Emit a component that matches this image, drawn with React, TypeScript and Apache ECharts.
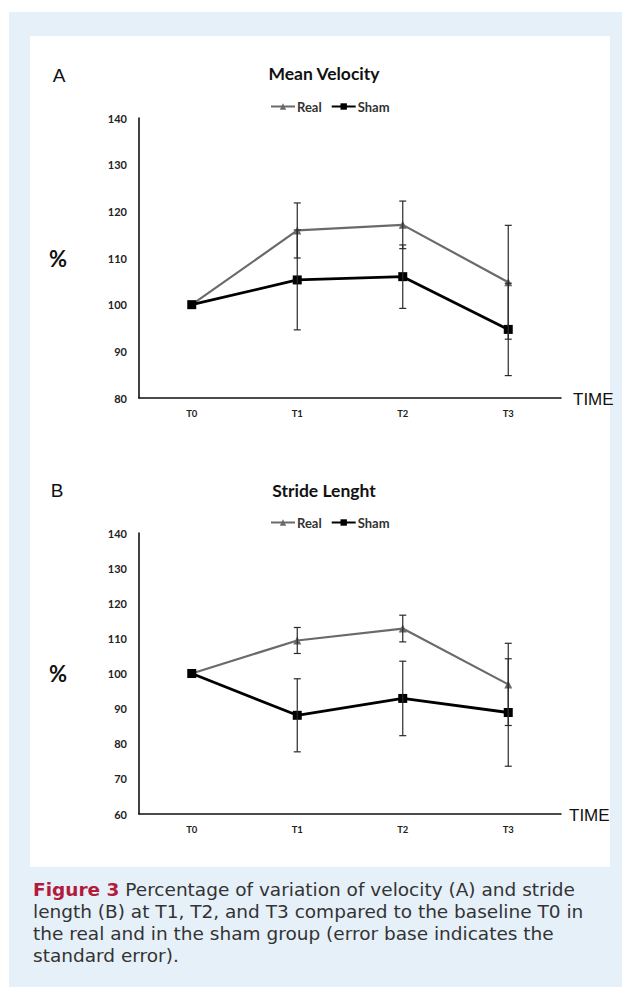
import React, { useEffect, useRef } from "react";
import * as echarts from "echarts";

const categories = ["T0", "T1", "T2", "T3"];
const yTicksA = [80, 90, 100, 110, 120, 130, 140];
const yTicksB = [60, 70, 80, 90, 100, 110, 120, 130, 140];

// Panel A: Mean Velocity (%)
const velReal = [100, 115.9, 117.1, 104.8];
const velRealErr = [0, 5.9, 5.1, 12.2];
const velSham = [100, 105.3, 106.0, 94.7];
const velShamErr = [0, 10.7, 6.8, 9.9];

// Panel B: Stride Lenght (%)
const strideReal = [100, 109.4, 112.8, 96.9];
const strideRealErr = [0, 3.7, 3.8, 11.7];
const strideSham = [100, 88.1, 92.9, 88.9];
const strideShamErr = [0, 10.4, 10.6, 15.3];

const captionLines = [
  "Percentage of variation of velocity (A) and stride",
  "length (B) at T1, T2, and T3 compared to the baseline T0 in",
  "the real and in the sham group (error base indicates the",
  "standard error).",
];

const CHART_FONT = "Lato";

function errData(vals: number[], errs: number[]) {
  const out: number[][] = [];
  vals.forEach((v, i) => {
    if (errs[i] > 0) out.push([i, v - errs[i], v + errs[i]]);
  });
  return out;
}

function errRender(params: any, api: any) {
  const x = api.value(0);
  const lo = api.value(1);
  const hi = api.value(2);
  const pHi = api.coord([x, hi]);
  const pLo = api.coord([x, lo]);
  const cap = 3.5;
  const st = { stroke: "#2a2a2a", lineWidth: 1.2 };
  return {
    type: "group",
    children: [
      { type: "line", shape: { x1: pHi[0], y1: pHi[1], x2: pLo[0], y2: pLo[1] }, style: st },
      { type: "line", shape: { x1: pHi[0] - cap, y1: pHi[1], x2: pHi[0] + cap, y2: pHi[1] }, style: st },
      { type: "line", shape: { x1: pLo[0] - cap, y1: pLo[1], x2: pLo[0] + cap, y2: pLo[1] }, style: st },
    ],
  };
}

function makeAxes(idx: number, min: number, max: number) {
  const x = {
    type: "category",
    gridIndex: idx,
    data: categories,
    boundaryGap: true,
    axisLine: { show: true, lineStyle: { color: "#111", width: 1.6 } },
    axisTick: { show: false },
    axisLabel: { margin: 10, fontFamily: CHART_FONT, fontWeight: "bold", fontSize: 9.5, color: "#222" },
    splitLine: { show: false },
  };
  const y = {
    type: "value",
    gridIndex: idx,
    min,
    max,
    interval: 10,
    axisLine: { show: true, lineStyle: { color: "#111", width: 1.6 } },
    axisTick: { show: false },
    axisLabel: { margin: 12, fontFamily: CHART_FONT, fontWeight: "bold", fontSize: 11, color: "#222" },
    splitLine: { show: false },
  };
  return { x, y };
}

function lineSeries(name: string, data: number[], idx: number, real: boolean) {
  return {
    type: "line",
    name,
    xAxisIndex: idx,
    yAxisIndex: idx,
    data,
    symbol: real ? "triangle" : "rect",
    symbolSize: real ? 8 : 9,
    itemStyle: { color: real ? "#6a6a6a" : "#000" },
    lineStyle: { color: real ? "#6a6a6a" : "#000", width: real ? 2.2 : 2.8 },
    z: real ? 4 : 5,
  };
}

function errSeries(data: number[][], idx: number) {
  return {
    type: "custom",
    xAxisIndex: idx,
    yAxisIndex: idx,
    data,
    encode: { x: 0, y: [1, 2] },
    renderItem: errRender,
    z: 6,
    silent: true,
  };
}

export default function App() {
  const ref = useRef<HTMLDivElement>(null);

  useEffect(() => {
    if (!ref.current) return;
    const chart = echarts.init(ref.current, undefined, { renderer: "svg" });
    const aA = makeAxes(0, yTicksA[0], yTicksA[yTicksA.length - 1]);
    const aB = makeAxes(1, yTicksB[0], yTicksB[yTicksB.length - 1]);

    const titleStyle = { fontFamily: CHART_FONT, fontWeight: "bold", fontSize: 17.5, fill: "#111" };
    const bigLetter = { fontFamily: "Liberation Sans", fontSize: 19, fill: "#111" };
    const pct = { fontFamily: CHART_FONT, fontWeight: "bold", fontSize: 22, fill: "#111" };
    const timeStyle = { fontFamily: "Liberation Sans", fontSize: 17, fill: "#111" };
    const capStyle = { fontFamily: "DejaVu Sans", fontSize: 18.5, fill: "#333" };
    const capLH = 22.3;

    const texts: any[] = [
      { type: "text", x: 59, y: 75, style: { ...bigLetter, text: "A", textAlign: "center", textVerticalAlign: "middle" } },
      { type: "text", x: 57, y: 490, style: { ...bigLetter, text: "B", textAlign: "center", textVerticalAlign: "middle" } },
      { type: "text", x: 324, y: 73, style: { ...titleStyle, text: "Mean Velocity", textAlign: "center", textVerticalAlign: "middle" } },
      { type: "text", x: 324, y: 490, style: { ...titleStyle, text: "Stride Lenght", textAlign: "center", textVerticalAlign: "middle" } },
      { type: "text", x: 58, y: 258, style: { ...pct, text: "%", textAlign: "center", textVerticalAlign: "middle" } },
      { type: "text", x: 58, y: 673, style: { ...pct, text: "%", textAlign: "center", textVerticalAlign: "middle" } },
      { type: "text", x: 573, y: 399, style: { ...timeStyle, text: "TIME", textAlign: "left", textVerticalAlign: "middle" } },
      { type: "text", x: 569, y: 815, style: { ...timeStyle, text: "TIME", textAlign: "left", textVerticalAlign: "middle" } },
      {
        type: "text",
        x: 33,
        y: 889,
        style: {
          ...capStyle,
          text: "{f|Figure 3} " + captionLines[0],
          textVerticalAlign: "middle",
          rich: { f: { fontFamily: "DejaVu Sans", fontSize: 18.5, fontWeight: "bold", fill: "#b31b3b" } },
        },
      },
      ...captionLines.slice(1).map((t, i) => ({
        type: "text",
        x: 33,
        y: 889 + (i + 1) * capLH,
        style: { ...capStyle, text: t, textVerticalAlign: "middle" },
      })),
    ];

    const legendCommon = {
      itemWidth: 24,
      itemHeight: 8,
      itemGap: 9,
      left: 265,
      textStyle: { fontFamily: CHART_FONT, fontWeight: "bold", fontSize: 13, color: "#333", padding: [0, 0, 0, -3] },
    };

    chart.setOption({
      animation: false,
      graphic: [
        { type: "rect", z: -20, shape: { x: 9, y: 12, width: 613, height: 975 }, style: { fill: "#e6f0f9" } },
        { type: "rect", z: -19, shape: { x: 30, y: 36, width: 580, height: 831 }, style: { fill: "#ffffff" } },
        ...texts,
      ],
      legend: [
        { ...legendCommon, top: 95, data: ["Real", "Sham"] },
        { ...legendCommon, top: 511, data: ["Real", "Sham"] },
      ],
      grid: [
        { left: 139, top: 118, width: 422, height: 280, containLabel: false },
        { left: 139, top: 533, width: 422, height: 281, containLabel: false },
      ],
      xAxis: [aA.x, aB.x],
      yAxis: [aA.y, aB.y],
      series: [
        lineSeries("Real", velReal, 0, true),
        lineSeries("Sham", velSham, 0, false),
        errSeries(errData(velReal, velRealErr), 0),
        errSeries(errData(velSham, velShamErr), 0),
        lineSeries("Real", strideReal, 1, true),
        lineSeries("Sham", strideSham, 1, false),
        errSeries(errData(strideReal, strideRealErr), 1),
        errSeries(errData(strideSham, strideShamErr), 1),
      ],
    });
    return () => chart.dispose();
  }, []);

  return (
    <div
      ref={ref}
      style={{ position: "absolute", left: 0, top: 0, width: 622, height: 987, background: "#ffffff" }}
    />
  );
}
